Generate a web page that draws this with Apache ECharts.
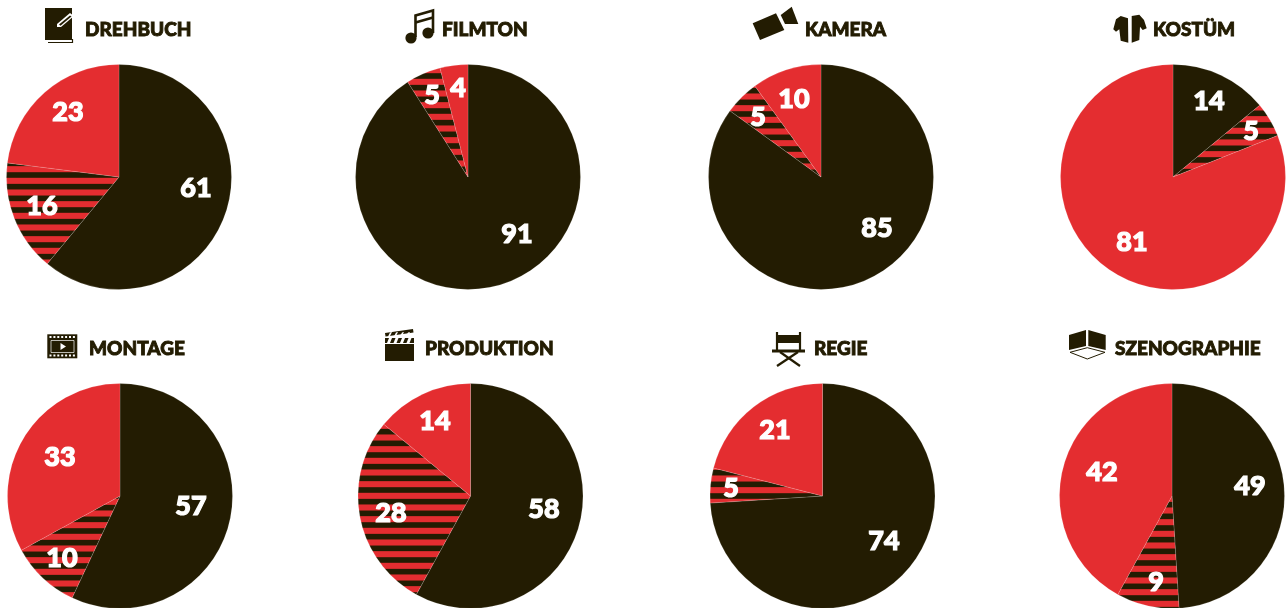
<!DOCTYPE html>
<html lang="de">
<head>
<meta charset="utf-8">
<title>Gewerke</title>
<style>html,body{margin:0;padding:0;background:#fff}#chart{width:1287px;height:608px}</style>
<script src="https://cdn.jsdelivr.net/npm/echarts@6/dist/echarts.min.js"></script>
</head>
<body>
<div id="chart"></div>
<script>
// Share per department: first slice dark, second striped, third red.
const departments = ['DREHBUCH', 'FILMTON', 'KAMERA', 'KOSTÜM', 'MONTAGE', 'PRODUKTION', 'REGIE', 'SZENOGRAPHIE'];
const darkShare    = [61, 91, 85, 14, 57, 58, 74, 49];
const stripedShare = [16, 5, 5, 5, 10, 28, 5, 9];
const redShare     = [23, 4, 10, 81, 33, 14, 21, 42];

const INK = '#231c02';
const RED = '#e42d30';
const FONT = 'Lato';

// Pie centres, title origins and hand-placed value labels, one entry per department.
const centres = [[119, 177], [468, 177], [821, 177], [1173, 177], [120, 496], [470.5, 496], [822.5, 496], [1172, 496]];
const titleX = [85, 442, 805, 1153, 89, 425, 814, 1115];
const titleY = [30, 30, 30, 30, 348.5, 348.5, 348.5, 348.5];
const stripePhase = [0, 6, 9, 8.3, 6, 0, 6, 3];
const labelSpots = [
  [[196, 188], [42, 206], [68, 112]],
  [[517, 234], [432, 95], [458, 88]],
  [[877, 228], [758, 117], [794, 99]],
  [[1209, 101], [1251, 131], [1132, 242]],
  [[191, 506], [62, 558], [60, 457]],
  [[544, 509], [391, 513], [435, 421]],
  [[884, 541], [731, 488], [775, 430]],
  [[1250, 486], [1156, 582], [1102, 472]]
];

// Horizontal stripes, three periods in 35px so the repeat lands on whole pixels.
function stripePattern(phase) {
  const c = document.createElement('canvas');
  c.width = 4; c.height = 35;
  const g = c.getContext('2d');
  g.fillStyle = RED;
  g.fillRect(0, 0, 4, 35);
  g.fillStyle = INK;
  for (let i = -1; i < 4; i++) {
    g.fillRect(0, phase + i * 35 / 3 - 2.8, 4, 5.6);
  }
  return { image: c, repeat: 'repeat' };
}

const series = departments.map((name, i) => ({
  type: 'pie',
  name,
  center: centres[i],
  radius: [0, 112.5],
  startAngle: 90,
  clockwise: true,
  silent: true,
  animation: false,
  avoidLabelOverlap: false,
  itemStyle: { borderColor: 'rgba(255,255,255,0.3)', borderWidth: 0.5 },
  label: {
    show: true,
    position: 'inside',
    formatter: '{c}',
    color: '#fff',
    fontFamily: FONT,
    fontWeight: 900,
    fontSize: 27,
    textBorderColor: '#fff',
    textBorderWidth: 1.2
  },
  labelLine: { show: false },
  labelLayout: p => ({
    x: labelSpots[i][p.dataIndex][0],
    y: labelSpots[i][p.dataIndex][1],
    align: 'center',
    verticalAlign: 'middle',
    hideOverlap: false
  }),
  data: [
    { name: 'dark', value: darkShare[i], itemStyle: { color: INK } },
    { name: 'striped', value: stripedShare[i], itemStyle: { color: stripePattern(stripePhase[i]) } },
    { name: 'red', value: redShare[i], itemStyle: { color: RED } }
  ]
}));

const titles = departments.map((text, i) => ({
  text,
  left: titleX[i],
  top: titleY[i] - 13,
  padding: 0,
  textStyle: {
    color: INK, fontFamily: FONT, fontWeight: 900, fontSize: 19, lineHeight: 26,
    textBorderColor: INK, textBorderWidth: 0.9
  }
}));

// Small pictograms beside the titles.
const poly = (points, fill) => ({ type: 'polygon', shape: { points }, style: { fill }, silent: true });
const rect = (x, y, width, height, fill) => ({ type: 'rect', shape: { x, y, width, height }, style: { fill }, silent: true });
const line = (points, stroke, lineWidth) => ({ type: 'polyline', shape: { points }, style: { stroke, lineWidth, fill: 'none' }, silent: true });
const dot = (cx, cy, r, fill) => ({ type: 'circle', shape: { cx, cy, r }, style: { fill }, silent: true });
const WHITE = '#fff';
const rowOf = (x0, y, n, step, w, h) => Array.from({ length: n }, (_, k) => rect(x0 + k * step, y, w, h, WHITE));

const icons = [
  // script page with pen
  line([[48, 42.5], [72.5, 42.5], [72.5, 39]], INK, 1.2),
  rect(45, 8, 27, 32, INK),
  poly([[57, 24], [70, 13], [74, 16], [61, 27], [57, 27]], WHITE),
  poly([[59, 24.5], [70, 15.5], [71.5, 16.5], [60.5, 25.8]], INK),
  // music notes
  dot(411, 38, 5.6, INK), dot(428, 33, 5.6, INK),
  line([[415.5, 37], [415.5, 15.5], [433, 10.5], [433, 33]], INK, 2.6),
  line([[415.5, 22.5], [433, 17.5]], INK, 2.6),
  // camera
  poly([[752.7, 23.3], [776, 13.3], [784.3, 30], [760, 40]], INK),
  poly([[780.7, 15], [791.7, 6.7], [798.3, 24], [785, 24]], INK),
  // jacket
  poly([[1120.7, 16], [1128, 18.3], [1128.3, 42.7], [1120.7, 40.7], [1119.3, 29.3], [1116, 31.7], [1113.3, 29.3], [1116, 19.3]], INK),
  poly([[1131.7, 16], [1139.3, 14.7], [1144, 20], [1146.7, 28.3], [1142.7, 30], [1140, 26.7], [1139.3, 40], [1131.7, 42.7]], INK),
  // film strip
  rect(47.3, 334.3, 30, 24, INK),
  ...rowOf(49.5, 336, 7, 3.9, 2, 2),
  ...rowOf(49.5, 354.5, 7, 3.9, 2, 2),
  { type: 'rect', shape: { x: 51, y: 340.5, width: 23, height: 12 }, style: { stroke: WHITE, lineWidth: 0.7, fill: 'none' }, silent: true },
  poly([[60.5, 343], [60.5, 350], [66, 346.5]], WHITE),
  // clapperboard
  rect(385, 344, 29, 17, INK),
  poly([[385, 338], [414, 338], [414, 343], [385, 343]], INK),
  poly([[385, 333], [413, 329], [413.5, 332.5], [385.5, 336.5]], INK),
  ...[0, 1, 2, 3].map(k => poly([[389 + k * 6.5, 338], [392 + k * 6.5, 338], [390 + k * 6.5, 343], [387 + k * 6.5, 343]], WHITE)),
  ...[0, 1, 2, 3].map(k => poly([[390 + k * 6, 332.5], [392 + k * 6, 332], [390 + k * 6, 336], [388 + k * 6, 336.5]], WHITE)),
  // director's chair
  line([[777, 332], [777, 351]], INK, 2.2),
  line([[800, 332], [800, 351]], INK, 2.2),
  rect(777, 335, 23, 8, INK),
  rect(772, 349.5, 33, 3, INK),
  line([[780, 352], [800, 366]], INK, 2.2),
  line([[798, 352], [777, 366]], INK, 2.2),
  // stage set
  poly([[1069, 335], [1086, 330], [1086, 346], [1069, 350]], INK),
  poly([[1088.3, 330], [1105.7, 335], [1105.7, 350], [1088.3, 346]], INK),
  { type: 'polygon', shape: { points: [[1070, 352.3], [1087.3, 347.7], [1105, 352.3], [1087.3, 359]] }, style: { fill: 'none', stroke: INK, lineWidth: 1 }, silent: true }
];

const chart = echarts.init(document.getElementById('chart'), null, { renderer: 'canvas' });
chart.setOption({
  animation: false,
  backgroundColor: '#fff',
  title: titles,
  tooltip: { show: false },
  series,
  graphic: { elements: icons }
});
</script>
</body>
</html>
